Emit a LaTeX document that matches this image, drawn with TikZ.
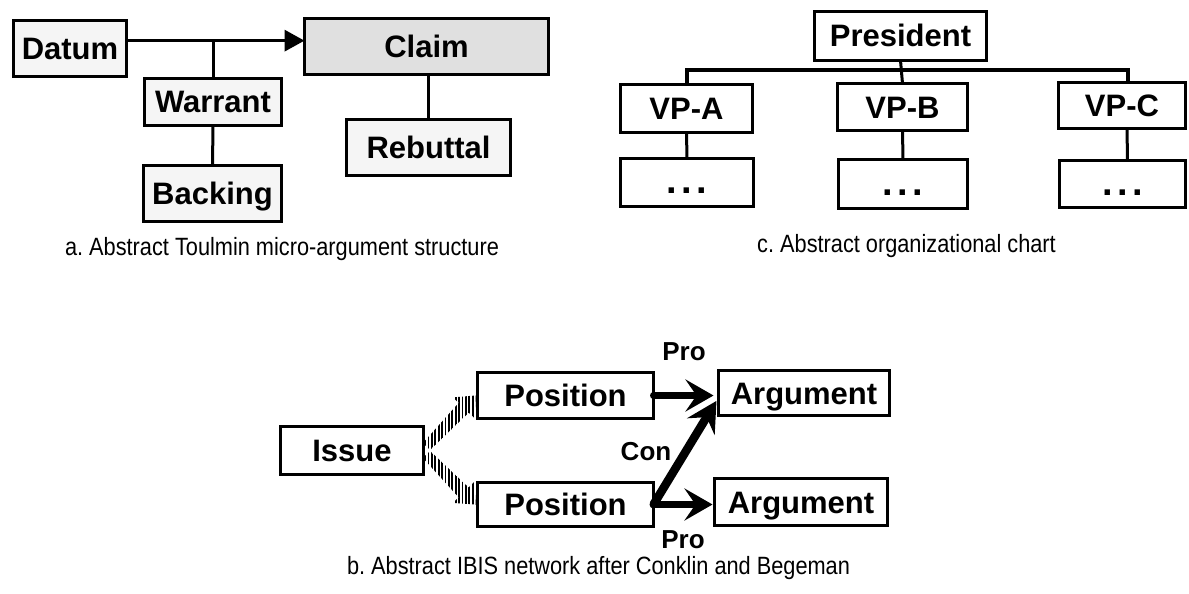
\documentclass[tikz,border=0pt]{standalone}
\usepackage{fontspec}
\setmainfont{Liberation Sans}
\newfontfamily\capfont[FakeStretch=0.87]{Liberation Sans}
\usetikzlibrary{arrows.meta,calc,patterns.meta}
\frenchspacing
\newcommand{\bigdots}{{\fontsize{38}{38}\selectfont.\kern4.5pt.\kern4.5pt.}}

\begin{document}
\begin{tikzpicture}[x=1pt,y=-1pt,
  every node/.style={inner sep=0pt,outer sep=0pt},
  box/.style={draw,line width=3pt,fill=white,text height=22pt,text depth=0pt,
    font=\bfseries\fontsize{31}{31}\selectfont},
  lightbox/.style={box,fill=black!4},
  claimbox/.style={box,fill=black!12},
  conn/.style={line width=3pt},
  barline/.style={line width=4pt},
  captext/.style={font=\capfont\fontsize{25}{25}\selectfont},
  lbl/.style={font=\bfseries\fontsize{26}{26}\selectfont},
  proarrow/.style={line width=6.5pt,-{Stealth[length=28pt,width=32pt,inset=11pt]}},
  conarrow/.style={line width=8.5pt,-{Stealth[length=30pt,width=32pt,inset=11pt]}},
  hatch/.style={pattern={Lines[angle=90,distance=3.4pt,line width=1.8pt]}}
]
\useasboundingbox (0,0) rectangle (1189,594);

% ---------- a. Toulmin structure ----------
\node[lightbox,minimum width=113pt,minimum height=56pt] (datum)    at (70,48.5)   {Datum};
\node[claimbox,minimum width=244pt,minimum height=56pt] (claim)    at (426.5,46.5) {Claim};
\node[lightbox,minimum width=137pt,minimum height=47pt] (warrant)  at (213,102)   {Warrant};
\node[lightbox,minimum width=138pt,minimum height=56pt] (backing)  at (212.5,193.5) {Backing};
\node[lightbox,minimum width=164pt,minimum height=56pt] (rebuttal) at (428.5,147.5) {Rebuttal};

\coordinate (dw) at ($(datum.north east)!0.36!(datum.south east)$);
\draw[line width=3.5pt,-{Triangle[length=20pt,width=21pt]}] (dw) -- (dw -| claim.west);
\draw[conn] (warrant.north) -- (warrant.north |- dw);
\draw[conn] (warrant.south) -- (backing.north);
\draw[conn] (rebuttal.north) -- (rebuttal.north |- claim.south);

\node[captext,anchor=base] (capa) at (282,255) {a. Abstract Toulmin micro-argument structure};

% ---------- c. organizational chart ----------
\node[box,minimum width=172pt,minimum height=49pt] (pres) at (900.5,36)  {President};
\node[box,minimum width=132pt,minimum height=48pt] (vpa)  at (686.5,108.5) {VP-A};
\node[box,minimum width=130pt,minimum height=47pt] (vpb)  at (902.5,107) {VP-B};
\node[box,minimum width=127pt,minimum height=45pt] (vpc)  at (1122,105.5) {VP-C};
\node[box,minimum width=133pt,minimum height=48pt] (suba) at (687,182.5) {\bigdots};
\node[box,minimum width=129pt,minimum height=49pt] (subb) at (903,184)   {\bigdots};
\node[box,minimum width=126pt,minimum height=47pt] (subc) at (1122.5,184) {\bigdots};

\coordinate (bar) at (0,70);
\draw[barline] (vpa.north) -- (vpa.north |- bar) -- ([xshift=6pt]vpc.north |- bar) -- ([xshift=6pt]vpc.north);
\draw[conn] (pres.south) -- (vpb.north);
\draw[conn] (vpa.south) -- (suba.north);
\draw[conn] (vpb.south) -- (subb.north);
\draw[conn] ([xshift=5pt]vpc.south) -- ([xshift=5pt]subc.north);

\node[captext,anchor=base] (capc) at (906.5,252) {c. Abstract organizational chart};

% ---------- b. IBIS network ----------
\node[box,minimum width=143pt,minimum height=48pt] (issue)  at (352,450.5)   {Issue};
\node[box,minimum width=176pt,minimum height=46pt] (postop) at (565.5,395.5) {Position};
\node[box,minimum width=176pt,minimum height=44pt] (posbot) at (565.5,504.5) {Position};
\node[box,minimum width=171pt,minimum height=45pt] (argtop) at (804,393)     {Argument};
\node[box,minimum width=173pt,minimum height=47pt] (argbot) at (801,502)     {Argument};

% hatched arrows from the issue to its positions
\foreach \s/\t/\dy in {a/postop/-4, b/posbot/4} {
  \coordinate (hs\s) at ($(issue.east)+(3,\dy)$);
  \coordinate (ht\s) at ($(\t.west)+(-2,0)$);
  \coordinate (hb\s) at ($(ht\s)!17pt!(hs\s)$);
  \fill[hatch] ($(hs\s)!5pt!90:(ht\s)$) -- ($(hb\s)!7pt!90:(ht\s)$)
     -- ($(hb\s)!15pt!90:(ht\s)$) -- (ht\s) -- ($(hb\s)!15pt!-90:(ht\s)$)
     -- ($(hb\s)!7pt!-90:(ht\s)$) -- ($(hs\s)!5pt!-90:(ht\s)$) -- cycle;
}

\coordinate (contip) at ($(argtop.west)!0.35!(argtop.south west)$);
\draw[conarrow] (posbot.east) -- ([xshift=-2pt]contip);
\draw[proarrow,shorten >=5pt] (postop.east) -- (argtop.west |- postop.east);
\draw[proarrow,shorten >=2pt] (posbot.east) -- (argbot.west |- posbot.east);
\fill (postop.east) circle (3.5pt);
\fill (posbot.east) circle (4pt);

\node[lbl] (protop) at (684,352) {Pro};
\node[lbl] (con)    at (646,452) {Con};
\node[lbl] (probot) at (683,540) {Pro};

\node[captext,anchor=base] (capb) at (598.5,574) {b. Abstract IBIS network after Conklin and Begeman};
\end{tikzpicture}
\end{document}
